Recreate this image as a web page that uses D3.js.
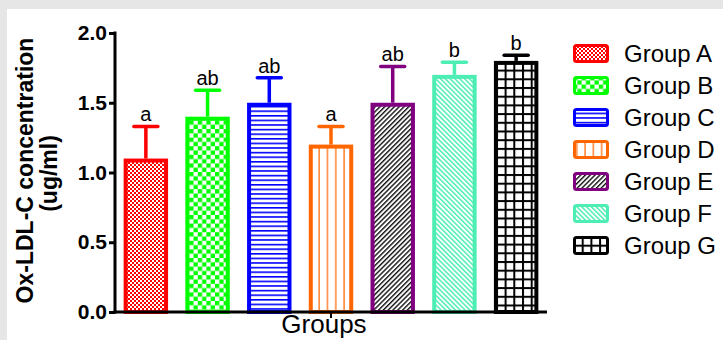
<!DOCTYPE html>
<html>
<head>
<meta charset="utf-8">
<script src="https://cdn.jsdelivr.net/npm/d3@7"></script>
<style>
  body { margin: 0; background: #e6e6e6; }
  svg { display: block; font-family: "Liberation Sans", Arial, sans-serif; }
</style>
</head>
<body>
<div id="chart"></div>
<script>
// values
var groups  = ['Group A', 'Group B', 'Group C', 'Group D', 'Group E', 'Group F', 'Group G'];
var means   = [1.1, 1.4, 1.5, 1.2, 1.5, 1.7, 1.8];
var errors  = [0.23, 0.19, 0.18, 0.13, 0.26, 0.09, 0.04];
var letters = ['a', 'ab', 'ab', 'a', 'ab', 'b', 'b'];
var yTicks  = [0, 0.5, 1.0, 1.5, 2.0];

var colors  = ['#ff0000', '#00ff00', '#0000ff', '#ff6600', '#800080', '#4deeb4', '#000000'];

var W = 723, H = 340;
var margin = {top: 33, left: 115, right: 176, bottom: 28};

var svg = d3.select('#chart').append('svg')
  .attr('width', W)
  .attr('height', H);

// white panel on grey frame
svg.append('rect')
  .attr('x', 7).attr('y', 9)
  .attr('width', W - 7).attr('height', H - 9)
  .attr('fill', '#fff');

// ---- patterns
var defs = svg.append('defs');

var pat = function(id, w, h, bg) {
  var p = defs.append('pattern')
    .attr('id', id)
    .attr('patternUnits', 'userSpaceOnUse')
    .attr('width', w).attr('height', h);
  p.append('rect').attr('width', w).attr('height', h).attr('fill', bg);
  return p;
};

// A: fine red checker
var pA = pat('pA', 4, 4, colors[0]);
pA.append('rect').attr('x', 0).attr('y', 0).attr('width', 2).attr('height', 2).attr('fill', '#fff');
pA.append('rect').attr('x', 2).attr('y', 2).attr('width', 2).attr('height', 2).attr('fill', '#fff');

// B: coarse green checker
var pB = pat('pB', 8.6, 8.6, '#fff');
pB.append('rect').attr('x', 0).attr('y', 0).attr('width', 4.3).attr('height', 4.3).attr('fill', colors[1]);
pB.append('rect').attr('x', 4.3).attr('y', 4.3).attr('width', 4.3).attr('height', 4.3).attr('fill', colors[1]);

// C: horizontal blue lines
var pC = pat('pC', 6, 4.6, '#fff');
pC.append('rect').attr('y', 0).attr('width', 6).attr('height', 1.6).attr('fill', colors[2]);

// D: sparse vertical orange lines
var pD = pat('pD', 8.3, 6, '#fff');
pD.append('rect').attr('x', 3).attr('width', 1.6).attr('height', 6).attr('fill', '#ff8a3d');

// E: black "/" hatch
var pE = pat('pE', 3.4, 3.4, '#fff').attr('patternTransform', 'rotate(45)');
pE.append('rect').attr('width', 1.4).attr('height', 3.4).attr('fill', '#111');

// F: teal "\" hatch
var pF = pat('pF', 3.4, 3.4, '#fff').attr('patternTransform', 'rotate(-45)');
pF.append('rect').attr('width', 1.5).attr('height', 3.4).attr('fill', colors[5]);

// G: black grid
var pG = pat('pG', 8.7, 8.7, '#fff');
pG.append('rect').attr('width', 8.7).attr('height', 2).attr('fill', '#000');
pG.append('rect').attr('width', 2).attr('height', 8.7).attr('fill', '#000');

var fills = ['pA', 'pB', 'pC', 'pD', 'pE', 'pF', 'pG'];

// ---- scales
var x = d3.scaleBand()
  .domain(groups)
  .range([margin.left, W - margin.right])
  .paddingInner(0.28)
  .paddingOuter(0.14);

var y = d3.scaleLinear()
  .domain([0, 2])
  .range([H - margin.bottom, margin.top]);

// ---- bars
var bars = svg.append('g').attr('class', 'bars')
  .selectAll('g')
  .data(groups)
  .enter().append('g');

bars.append('rect')
  .attr('x', function(d){ return x(d) + 2; })
  .attr('y', function(d, i){ return y(means[i]) + 2; })
  .attr('width', x.bandwidth() - 4)
  .attr('height', function(d, i){ return y(0) - y(means[i]) - 2; })
  .attr('fill', function(d, i){ return 'url(#' + fills[i] + ')'; })
  .attr('stroke', function(d, i){ return colors[i]; })
  .attr('stroke-width', 4);

// error bars (upper only)
bars.append('line')
  .attr('x1', function(d){ return x(d) + x.bandwidth() / 2; })
  .attr('x2', function(d){ return x(d) + x.bandwidth() / 2; })
  .attr('y1', function(d, i){ return y(means[i]); })
  .attr('y2', function(d, i){ return y(means[i] + errors[i]); })
  .attr('stroke', function(d, i){ return colors[i]; })
  .attr('stroke-width', 3.5);

bars.append('line')
  .attr('x1', function(d){ return x(d) + x.bandwidth() / 2 - 12; })
  .attr('x2', function(d){ return x(d) + x.bandwidth() / 2 + 12; })
  .attr('y1', function(d, i){ return y(means[i] + errors[i]); })
  .attr('y2', function(d, i){ return y(means[i] + errors[i]); })
  .attr('stroke', function(d, i){ return colors[i]; })
  .attr('stroke-width', 3.5)
  .attr('stroke-linecap', 'round');

// significance letters
bars.append('text')
  .attr('x', function(d){ return x(d) + x.bandwidth() / 2; })
  .attr('y', function(d, i){ return y(means[i] + errors[i]) - 5; })
  .attr('text-anchor', 'middle')
  .attr('font-size', 20)
  .attr('fill', '#000')
  .text(function(d, i){ return letters[i]; });

// ---- axes
var yAxis = d3.axisLeft(y)
  .tickValues(yTicks)
  .tickFormat(d3.format('.1f'))
  .tickSize(6)
  .tickPadding(2)
  .tickSizeOuter(0);

var gy = svg.append('g')
  .attr('class', 'y axis')
  .attr('transform', 'translate(' + margin.left + ',0)')
  .call(yAxis);

gy.select('.domain')
  .attr('stroke', '#000')
  .attr('stroke-width', 3)
  .attr('d', 'M0,' + (y(0) + 1.5) + 'V' + (y(2) - 1.5));
gy.selectAll('.tick line').attr('stroke', '#000').attr('stroke-width', 3);
gy.selectAll('.tick text')
  .attr('font-size', 21)
  .attr('font-weight', 'bold')
  .attr('fill', '#000')
  .attr('font-family', '"Liberation Sans", Arial, sans-serif');

// x axis: a plain baseline with one centre tick
var gx = svg.append('g').attr('class', 'x axis');
gx.append('line')
  .attr('x1', margin.left - 1.5)
  .attr('x2', W - margin.right)
  .attr('y1', y(0)).attr('y2', y(0))
  .attr('stroke', '#000')
  .attr('stroke-width', 3);
gx.append('line')
  .attr('x1', (margin.left + W - margin.right) / 2)
  .attr('x2', (margin.left + W - margin.right) / 2)
  .attr('y1', y(0)).attr('y2', y(0) + 6)
  .attr('stroke', '#000')
  .attr('stroke-width', 2);

svg.append('text')
  .attr('x', 324)
  .attr('y', 333)
  .attr('text-anchor', 'middle')
  .attr('font-size', 26)
  .attr('fill', '#000')
  .text('Groups');

// y title, two lines
var midY = (y(0) + y(2)) / 2;
svg.append('text')
  .attr('transform', 'translate(33,' + (midY - 2) + ') rotate(-90)')
  .attr('text-anchor', 'middle')
  .attr('font-size', 23)
  .attr('font-weight', 'bold')
  .attr('fill', '#000')
  .text('Ox-LDL-C concentration');
svg.append('text')
  .attr('transform', 'translate(57,' + (midY + 1) + ') rotate(-90)')
  .attr('text-anchor', 'middle')
  .attr('font-size', 23)
  .attr('font-weight', 'bold')
  .attr('fill', '#000')
  .text('(ug/ml)');

// ---- legend
var legend = svg.append('g').attr('class', 'legend')
  .selectAll('g')
  .data(groups)
  .enter().append('g')
  .attr('transform', function(d, i){ return 'translate(573,' + (44 + i * 32) + ')'; });

legend.append('rect')
  .attr('x', 1.5).attr('y', 1.5)
  .attr('width', 33).attr('height', 16)
  .attr('rx', 2)
  .attr('fill', function(d, i){ return 'url(#' + fills[i] + ')'; })
  .attr('stroke', function(d, i){ return colors[i]; })
  .attr('stroke-width', 3);

legend.append('text')
  .attr('x', 51)
  .attr('y', 18)
  .attr('font-size', 24)
  .attr('fill', '#000')
  .text(function(d){ return d; });
</script>
</body>
</html>
